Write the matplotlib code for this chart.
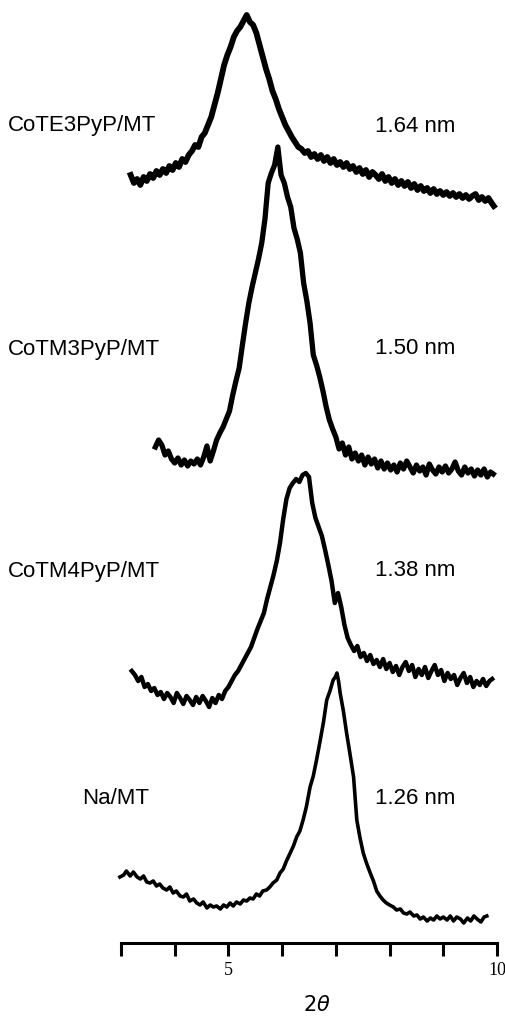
# XRD patterns of Co-porphyrin / montmorillonite samples (stacked)
import matplotlib
matplotlib.use('Agg')
import matplotlib.pyplot as plt
import numpy as np

# --- data (2theta, offset intensity in arbitrary units) ---
te3_x = [3.18, 3.24, 3.30, 3.36, 3.42, 3.48, 3.54, 3.60, 3.66, 3.72,
         3.78, 3.84, 3.90, 3.96, 4.02, 4.08, 4.14, 4.20, 4.26, 4.32,
         4.38, 4.44, 4.50, 4.56, 4.62, 4.68, 4.74, 4.80, 4.86, 4.92,
         4.98, 5.04, 5.10, 5.16, 5.22, 5.28, 5.34, 5.40, 5.46, 5.52,
         5.58, 5.64, 5.70, 5.76, 5.82, 5.88, 5.94, 6.00, 6.06, 6.12,
         6.18, 6.24, 6.30, 6.36, 6.42, 6.48, 6.54, 6.60, 6.66, 6.72,
         6.78, 6.84, 6.90, 6.96, 7.02, 7.08, 7.14, 7.20, 7.26, 7.32,
         7.38, 7.44, 7.50, 7.56, 7.62, 7.68, 7.74, 7.80, 7.86, 7.92,
         7.98, 8.04, 8.10, 8.16, 8.22, 8.28, 8.34, 8.40, 8.46, 8.52,
         8.58, 8.64, 8.70, 8.76, 8.82, 8.88, 8.94, 9.00, 9.06, 9.12,
         9.18, 9.24, 9.30, 9.36, 9.42, 9.48, 9.54, 9.60, 9.66, 9.72,
         9.78, 9.84, 9.90, 9.94]
te3_y = [768, 760, 764, 758, 766, 762, 769, 765, 772, 768,
         774, 770, 777, 773, 780, 776, 784, 781, 788, 792,
         798, 796, 806, 810, 818, 826, 838, 850, 864, 878,
         888, 896, 906, 912, 916, 922, 928, 921, 918, 910,
         898, 886, 874, 864, 852, 844, 834, 826, 818, 812,
         806, 801, 796, 794, 790, 792, 786, 789, 784, 788,
         782, 786, 780, 784, 778, 781, 776, 780, 774, 777,
         771, 775, 769, 773, 766, 771, 768, 764, 769, 762,
         766, 760, 764, 758, 762, 757, 761, 755, 759, 753,
         757, 752, 755, 750, 754, 749, 752, 748, 751, 747,
         750, 746, 749, 745, 748, 744, 747, 749, 743, 746,
         742, 745, 740, 737]

m3_x = [3.64, 3.70, 3.76, 3.82, 3.88, 3.94, 4.00, 4.06, 4.12, 4.18,
        4.24, 4.30, 4.36, 4.42, 4.48, 4.54, 4.60, 4.66, 4.72, 4.78,
        4.84, 4.90, 4.96, 5.02, 5.08, 5.14, 5.20, 5.26, 5.32, 5.38,
        5.44, 5.50, 5.56, 5.62, 5.68, 5.74, 5.80, 5.86, 5.92, 5.98,
        6.04, 6.10, 6.16, 6.22, 6.28, 6.34, 6.40, 6.46, 6.52, 6.58,
        6.64, 6.70, 6.76, 6.82, 6.88, 6.94, 7.00, 7.06, 7.12, 7.18,
        7.24, 7.30, 7.36, 7.42, 7.48, 7.54, 7.60, 7.66, 7.72, 7.78,
        7.84, 7.90, 7.96, 8.02, 8.08, 8.14, 8.20, 8.26, 8.32, 8.38,
        8.44, 8.50, 8.56, 8.62, 8.68, 8.74, 8.80, 8.86, 8.92, 8.98,
        9.04, 9.10, 9.16, 9.22, 9.28, 9.34, 9.40, 9.46, 9.52, 9.58,
        9.64, 9.70, 9.76, 9.82, 9.88, 9.93]
m3_y = [496, 503, 498, 488, 492, 484, 480, 485, 478, 483,
        477, 482, 479, 484, 478, 486, 497, 482, 492, 503,
        510, 516, 524, 532, 548, 562, 575, 598, 620, 640,
        656, 670, 684, 700, 724, 760, 770, 778, 796, 768,
        760, 746, 736, 715, 704, 690, 660, 642, 620, 588,
        578, 566, 552, 536, 523, 514, 506, 494, 500, 488,
        496, 484, 490, 482, 488, 478, 486, 479, 484, 475,
        482, 474, 480, 473, 478, 471, 480, 474, 482, 476,
        470, 478, 472, 476, 468, 479, 473, 469, 476, 471,
        477, 470, 474, 481, 472, 468, 476, 470, 474, 467,
        473, 468, 474, 466, 471, 469]

m4_x = [3.20, 3.26, 3.32, 3.38, 3.44, 3.50, 3.56, 3.62, 3.68, 3.74,
        3.80, 3.86, 3.92, 3.98, 4.04, 4.10, 4.16, 4.22, 4.28, 4.34,
        4.40, 4.46, 4.52, 4.58, 4.64, 4.70, 4.76, 4.82, 4.88, 4.94,
        5.00, 5.06, 5.12, 5.18, 5.24, 5.30, 5.36, 5.42, 5.48, 5.54,
        5.60, 5.66, 5.72, 5.78, 5.84, 5.90, 5.96, 6.02, 6.08, 6.14,
        6.20, 6.26, 6.32, 6.38, 6.44, 6.50, 6.56, 6.62, 6.68, 6.74,
        6.80, 6.86, 6.92, 6.98, 7.04, 7.10, 7.16, 7.22, 7.28, 7.34,
        7.40, 7.46, 7.52, 7.58, 7.64, 7.70, 7.76, 7.82, 7.88, 7.94,
        8.00, 8.06, 8.12, 8.18, 8.24, 8.30, 8.36, 8.42, 8.48, 8.54,
        8.60, 8.66, 8.72, 8.78, 8.84, 8.90, 8.96, 9.02, 9.08, 9.14,
        9.20, 9.26, 9.32, 9.38, 9.44, 9.50, 9.56, 9.62, 9.68, 9.74,
        9.80, 9.86, 9.91]
m4_y = [272, 268, 262, 266, 256, 259, 252, 255, 248, 251,
        244, 250, 246, 240, 250, 245, 239, 247, 243, 238,
        246, 240, 247, 242, 236, 245, 240, 248, 244, 252,
        256, 262, 268, 272, 278, 284, 290, 296, 305, 314,
        322, 330, 344, 356, 368, 382, 400, 424, 444, 455,
        460, 464, 461, 468, 470, 466, 440, 425, 416, 407,
        393, 378, 362, 340, 350, 336, 318, 305, 298, 292,
        297, 286, 290, 282, 288, 279, 283, 276, 284, 274,
        280, 271, 277, 268, 276, 281, 272, 278, 266, 274,
        268, 276, 265, 272, 278, 268, 273, 262, 270, 264,
        268, 258, 265, 270, 260, 266, 256, 262, 258, 264,
        257, 262, 264]

na_x = [2.98, 3.05, 3.10, 3.17, 3.23, 3.30, 3.36, 3.42, 3.48, 3.54,
        3.60, 3.66, 3.72, 3.78, 3.85, 3.91, 3.97, 4.03, 4.10, 4.16,
        4.22, 4.28, 4.35, 4.41, 4.47, 4.53, 4.60, 4.66, 4.72, 4.78,
        4.85, 4.91, 4.97, 5.03, 5.09, 5.15, 5.22, 5.28, 5.34, 5.40,
        5.46, 5.52, 5.58, 5.64, 5.71, 5.77, 5.83, 5.90, 5.96, 6.02,
        6.08, 6.15, 6.21, 6.27, 6.33, 6.39, 6.45, 6.52, 6.58, 6.64,
        6.71, 6.77, 6.83, 6.89, 6.95, 6.99, 7.02, 7.05, 7.08, 7.14,
        7.20, 7.26, 7.33, 7.39, 7.45, 7.51, 7.57, 7.64, 7.70, 7.76,
        7.82, 7.88, 7.94, 8.00, 8.07, 8.13, 8.20, 8.26, 8.32, 8.38,
        8.45, 8.51, 8.57, 8.63, 8.70, 8.76, 8.82, 8.88, 8.94, 9.00,
        9.07, 9.13, 9.19, 9.25, 9.32, 9.38, 9.45, 9.51, 9.57, 9.63,
        9.70, 9.76, 9.81]
na_y = [66, 68, 72, 67, 71, 66, 64, 67, 61, 60,
        62, 57, 59, 55, 53, 56, 50, 52, 47, 46,
        49, 42, 44, 40, 38, 41, 35, 38, 36, 37,
        34, 38, 36, 40, 37, 41, 39, 43, 42, 45,
        44, 49, 47, 52, 53, 56, 60, 63, 70, 74,
        82, 90, 97, 106, 112, 123, 136, 156, 167, 183,
        203, 221, 243, 252, 263, 266, 270, 262, 250, 232,
        210, 190, 166, 123, 105, 90, 80, 70, 62, 52,
        47, 43, 40, 38, 36, 33, 34, 30, 29, 31,
        27, 28, 24, 26, 22, 25, 23, 27, 24, 26,
        23, 27, 22, 26, 24, 20, 25, 22, 27, 24,
        21, 26, 27]

samples = ['CoTE3PyP/MT', 'CoTM3PyP/MT', 'CoTM4PyP/MT', 'Na/MT']
spacings = ['1.64 nm', '1.50 nm', '1.38 nm', '1.26 nm']
label_levels = [817, 594, 372, 144]

# figure 506x1016 px
fig = plt.figure(figsize=(5.06, 10.16), dpi=100)
ax = fig.add_axes([121/506, 73/1016, 376/506, 943/1016])

curves = [(te3_x, te3_y, 4.2), (m3_x, m3_y, 3.8), (m4_x, m4_y, 3.2), (na_x, na_y, 2.6)]
for cx, cy, lw in curves:
    ax.plot(cx, cy, color='black', linewidth=lw, solid_joinstyle='round', clip_on=False)

# sample names on the left, d-spacings on the right
for name, d, lev in zip(samples, spacings, label_levels):
    if name == 'Na/MT':
        fig.text(82/506, lev/1016 + 73/1016, name, fontsize=16,
                 family='Liberation Sans', va='center', ha='left')
    else:
        fig.text(8/506, lev/1016 + 73/1016, name, fontsize=16,
                 family='Liberation Sans', va='center', ha='left')
    fig.text(455/506, lev/1016 + 73/1016, d, fontsize=16,
             family='Liberation Sans', va='center', ha='right')

ax.set_xlim(3, 10)
ax.set_ylim(0, 943)
ax.set_xticks(np.arange(3, 11))
ax.set_xticklabels(['', '', '5', '', '', '', '', '10'],
                   fontfamily='Liberation Serif', fontsize=13)
ax.tick_params(axis='x', direction='out', length=9.5, width=2.2, pad=4)
ax.set_yticks([])
for s in ['top', 'right', 'left']:
    ax.spines[s].set_visible(False)
ax.spines['bottom'].set_linewidth(2.2)

ax.set_xlabel(r'$2\theta$', fontsize=15)
ax.xaxis.set_label_coords(0.52, -0.066)
ax.xaxis.label.set_va('center')

fig.savefig('out.png', dpi=100)
